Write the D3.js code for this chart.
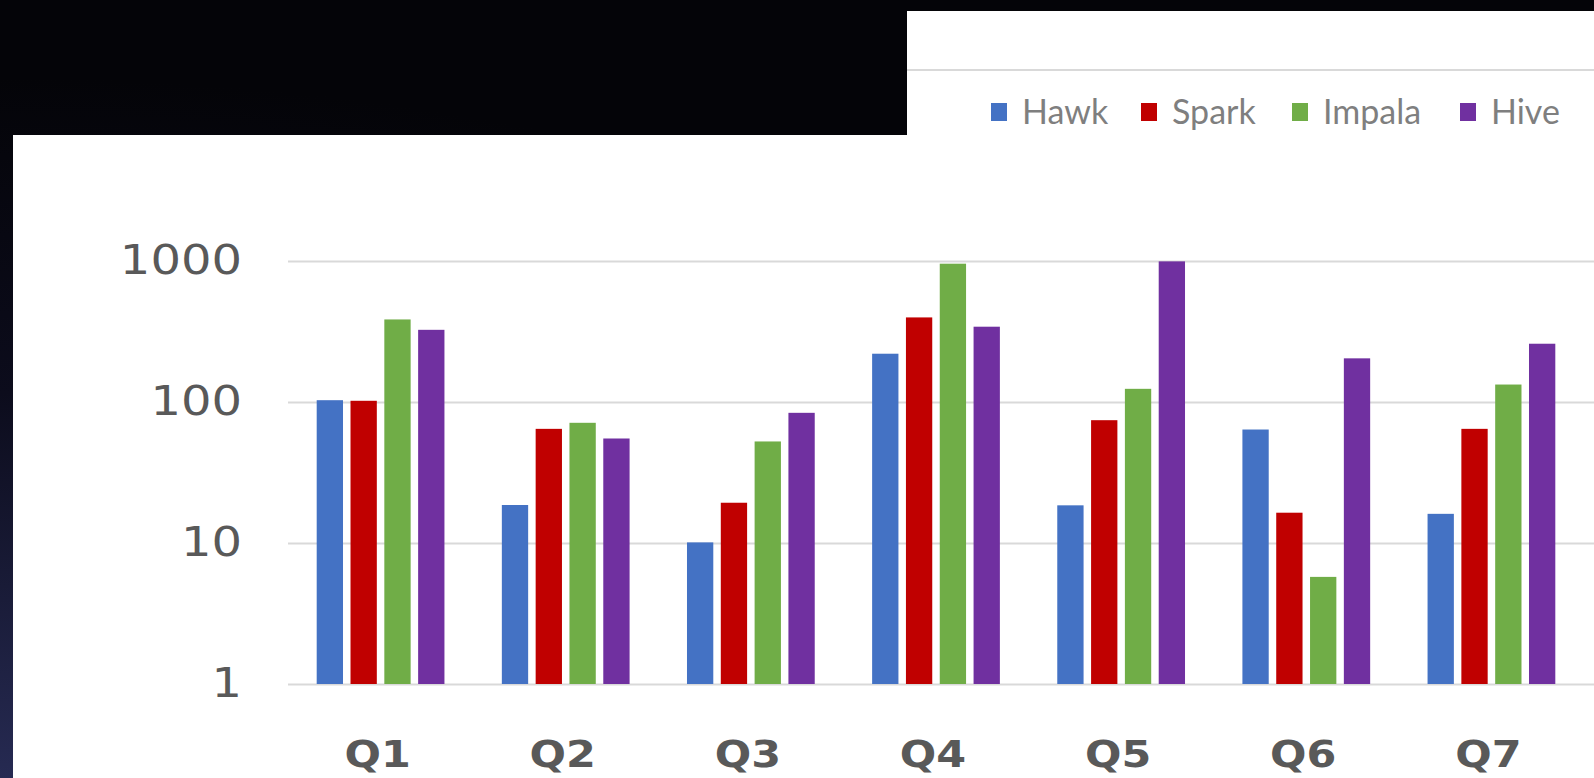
<!DOCTYPE html>
<html>
<head>
<meta charset="utf-8">
<script src="https://cdn.jsdelivr.net/npm/d3@7"></script>
<style>
  html, body { margin: 0; padding: 0; background: #05050c; overflow: hidden; }
  svg { display: block; }
</style>
</head>
<body>
<div id="vis"></div>
<script>
// data
var categories = ["Q1", "Q2", "Q3", "Q4", "Q5", "Q6", "Q7"];
var seriesNames = ["Hawk", "Spark", "Impala", "Hive"];
var hawk   = [103, 18.6, 10.1, 220, 18.5, 63.8, 16.1];
var spark  = [102, 64.5, 19.3, 398, 74.3, 16.4, 64.5];
var impala = [385, 71.2, 52.5, 957, 124, 5.75, 133];
var hive   = [325, 55.1, 83.8, 342, 994, 204, 259];
var yTicks = [1, 10, 100, 1000];

var colours = ["#4472C4", "#C00000", "#70AD47", "#7030A0"];

var width = 1594, height = 778;

var svg = d3.select("#vis")
    .append("svg")
    .attr("width", width)
    .attr("height", height);

// dark backdrop
var defs = svg.append("defs");
var grad = defs.append("radialGradient")
    .attr("id", "bg")
    .attr("cx", "0%").attr("cy", "100%").attr("r", "90%");
grad.append("stop").attr("offset", "0%").attr("stop-color", "#262a52");
grad.append("stop").attr("offset", "55%").attr("stop-color", "#0c0c1c");
grad.append("stop").attr("offset", "100%").attr("stop-color", "#040408");

svg.append("rect")
    .attr("width", width).attr("height", height)
    .attr("fill", "url(#bg)");

// top right white panel (legend)
svg.append("rect")
    .attr("x", 907).attr("y", 11)
    .attr("width", width - 907).attr("height", 130)
    .attr("fill", "#ffffff");

svg.append("line")
    .attr("x1", 907).attr("x2", width)
    .attr("y1", 70).attr("y2", 70)
    .attr("stroke", "#d9d9d9").attr("stroke-width", 2);

// main white panel
svg.append("rect")
    .attr("x", 13).attr("y", 135)
    .attr("width", width - 13).attr("height", height - 135)
    .attr("fill", "#ffffff");

// scales
var x0 = d3.scaleBand()
    .domain(categories)
    .range([288, 1584])
    .paddingInner(0.31)
    .paddingOuter(0.155);

var x1 = d3.scaleBand()
    .domain(seriesNames)
    .range([0, x0.bandwidth()])
    .paddingInner(0.222);

var y = d3.scaleLog()
    .domain([1, 1000])
    .range([684, 261]);

var colour = d3.scaleOrdinal()
    .domain(seriesNames)
    .range(colours);

// gridlines + y labels
var yAxis = d3.axisLeft(y)
    .tickValues(yTicks)
    .tickFormat(d3.format("d"))
    .tickSize(-(width - 288))
    .tickPadding(48);

var gy = svg.append("g")
    .attr("class", "y axis")
    .attr("transform", "translate(288,0)")
    .call(yAxis);

gy.select(".domain").remove();
gy.selectAll(".tick line")
    .attr("stroke", "#d9d9d9")
    .attr("stroke-width", 2);
// the labels in the picture are a wide, round face: stretch them a bit
gy.selectAll(".tick text")
    .attr("x", 0)
    .attr("transform", "translate(-46,0) scale(1.2,1)")
    .attr("fill", "#595959")
    .style("font-family", "'DejaVu Sans', sans-serif")
    .style("font-size", "40px");

// bars
var rows = categories.map(function (c, i) {
    return {
        cat: c,
        values: [hawk[i], spark[i], impala[i], hive[i]].map(function (v, j) {
            return { name: seriesNames[j], value: v };
        })
    };
});

var groups = svg.selectAll(".group")
    .data(rows)
    .enter()
    .append("g")
    .attr("class", "group")
    .attr("transform", function (d) { return "translate(" + x0(d.cat) + ",0)"; });

groups.selectAll("rect")
    .data(function (d) { return d.values; })
    .enter()
    .append("rect")
    .attr("x", function (d) { return x1(d.name); })
    .attr("y", function (d) { return y(d.value); })
    .attr("width", x1.bandwidth())
    .attr("height", function (d) { return y(1) - y(d.value); })
    .attr("fill", function (d) { return colour(d.name); });

// x labels
var xAxis = d3.axisBottom(x0).tickSize(0).tickPadding(0);

var gx = svg.append("g")
    .attr("class", "x axis")
    .attr("transform", "translate(-3,754)")
    .call(xAxis);

gx.select(".domain").remove();
gx.selectAll(".tick text")
    .attr("y", 0)
    .attr("dy", "0.35em")
    .attr("transform", "scale(1.13,1)")
    .attr("fill", "#595959")
    .style("font-family", "'DejaVu Sans', sans-serif")
    .style("font-weight", "bold")
    .style("font-size", "38px");

// legend
var legendX = [991, 1141, 1292, 1460];

var legend = svg.selectAll(".legend")
    .data(seriesNames)
    .enter()
    .append("g")
    .attr("class", "legend")
    .attr("transform", function (d, i) { return "translate(" + legendX[i] + ",112)"; });

legend.append("rect")
    .attr("x", 0).attr("y", -9)
    .attr("width", 16).attr("height", 18)
    .attr("fill", function (d) { return colour(d); });

legend.append("text")
    .attr("x", 31)
    .attr("y", 0)
    .attr("dy", "0.35em")
    .attr("fill", "#7f7f7f")
    .style("font-family", "Lato, sans-serif")
    .style("font-size", "34px")
    .text(function (d) { return d; });
</script>
</body>
</html>
